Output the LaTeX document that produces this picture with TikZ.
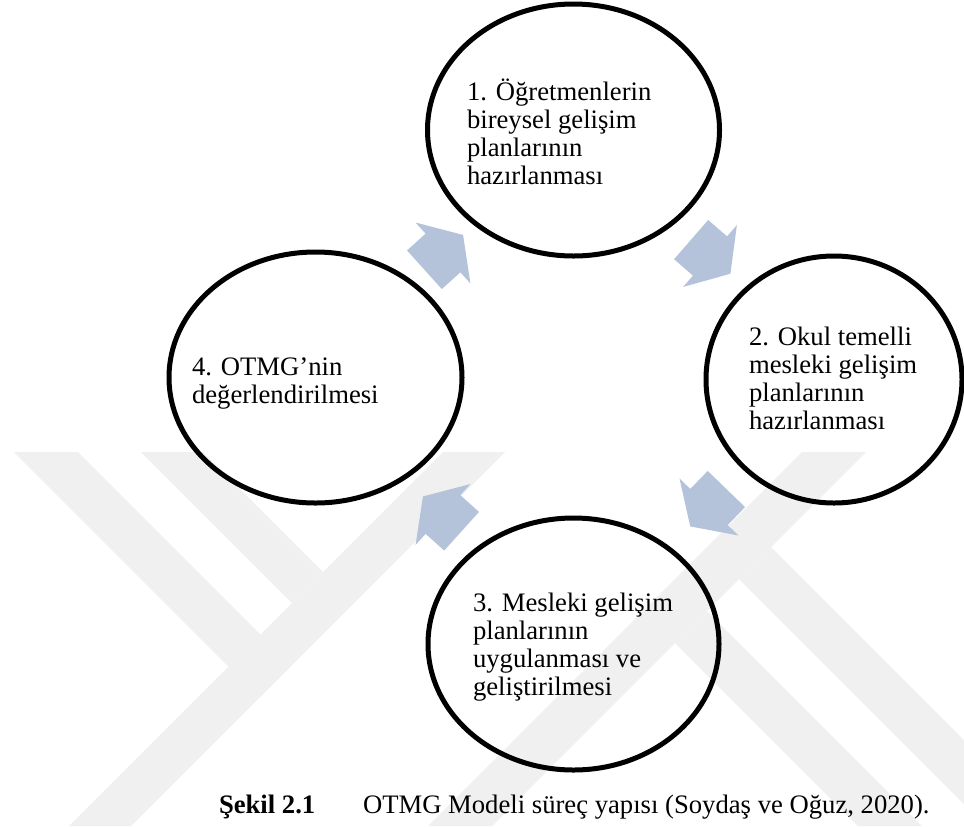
\documentclass[tikz,border=0pt]{standalone}
\usepackage{fontspec}
\setmainfont{Liberation Serif}
\usetikzlibrary{shapes.geometric}
\definecolor{arrowblue}{RGB}{180,195,218}
\definecolor{wmark}{RGB}{240,240,240}
\tikzset{
  circ/.style={ellipse, draw=black, line width=3.75pt, inner sep=0pt, outer sep=0pt},
  cyclearrow/.style={fill=arrowblue},
  lbl/.style={anchor=north west, inner sep=0pt, outer sep=0pt, align=left,
    font=\fontsize{20pt}{21pt}\selectfont},
  captiontext/.style={anchor=base west, inner sep=0pt, outer sep=0pt,
    font=\fontsize{20pt}{24pt}\selectfont},
  wm/.style={fill=wmark},
  blockarrow/.pic={\fill[cyclearrow] (-25,-26) -- (0,-26) -- (0,-41) -- (27,0)
     -- (0,41) -- (0,26) -- (-25,26) -- cycle;}
}
\newcommand{\topstrut}{\rule{0pt}{19pt}}
\begin{document}
\begin{tikzpicture}[x=0.75pt,y=-0.75pt]
\useasboundingbox (0,0) rectangle (964,826);
\fill[white] (0,0) rectangle (964,826);
% faint watermark
\begin{scope}
  \clip (0,452) rectangle (964,826);
  \fill[wm] (69,826) -- (131,826) -- (505,452) -- (443,452) -- cycle;
  \fill[wm] (14,452) -- (78,452) -- (291.5,665.5) -- (259.5,697.5) -- cycle;
  \fill[wm] (141,452) -- (203,452) -- (323,572) -- (292,603) -- cycle;
  \fill[wm] (428,826) -- (492,826) -- (866,452) -- (802,452) -- cycle;
  \fill[wm] (771,547) -- (1050,826) -- (986,826) -- (739,579) -- cycle;
  \fill[wm] (707,611) -- (922,826) -- (858,826) -- (675,643) -- cycle;
\end{scope}
% circles
\node[circ, minimum width=219pt, minimum height=189pt] (c1) at (573.5,130) {};
\node[circ, minimum width=192pt, minimum height=185.25pt] (c2) at (834,379.5) {};
\node[circ, minimum width=218.25pt, minimum height=189pt] (c3) at (573.5,644) {};
\node[circ, minimum width=219.75pt, minimum height=188.25pt] (c4) at (315.5,377.5) {};
% cycle arrows
\pic (a1) [rotate=42] at (443,253) {blockarrow};
\pic (a2) [rotate=-41] at (710,256) {blockarrow};
\pic (a3) [rotate=-134] at (709,507) {blockarrow};
\pic (a4) [rotate=138] at (443,514.5) {blockarrow};
% labels
\node[lbl] (t1) at (467,74.67) {\topstrut 1. Öğretmenlerin\\bireysel gelişim\\planlarının\\hazırlanması};
\node[lbl] (t2) at (749,319.67) {\topstrut 2. Okul temelli\\mesleki gelişim\\planlarının\\hazırlanması};
\node[lbl] (t3) at (473,585.67) {\topstrut 3. Mesleki gelişim\\planlarının\\uygulanması ve\\geliştirilmesi};
\node[lbl] (t4) at (192,349.67) {\topstrut 4. OTMG{\char"27}nin\\değerlendirilmesi};
% caption
\node[captiontext, font={\fontsize{20pt}{24pt}\selectfont\bfseries}] (capnum) at (219,813) {Şekil 2.1};
\node[captiontext] (captxt) at (363,813) {OTMG Modeli süreç yapısı (Soydaş ve Oğuz, 2020).};
\end{tikzpicture}
\end{document}
